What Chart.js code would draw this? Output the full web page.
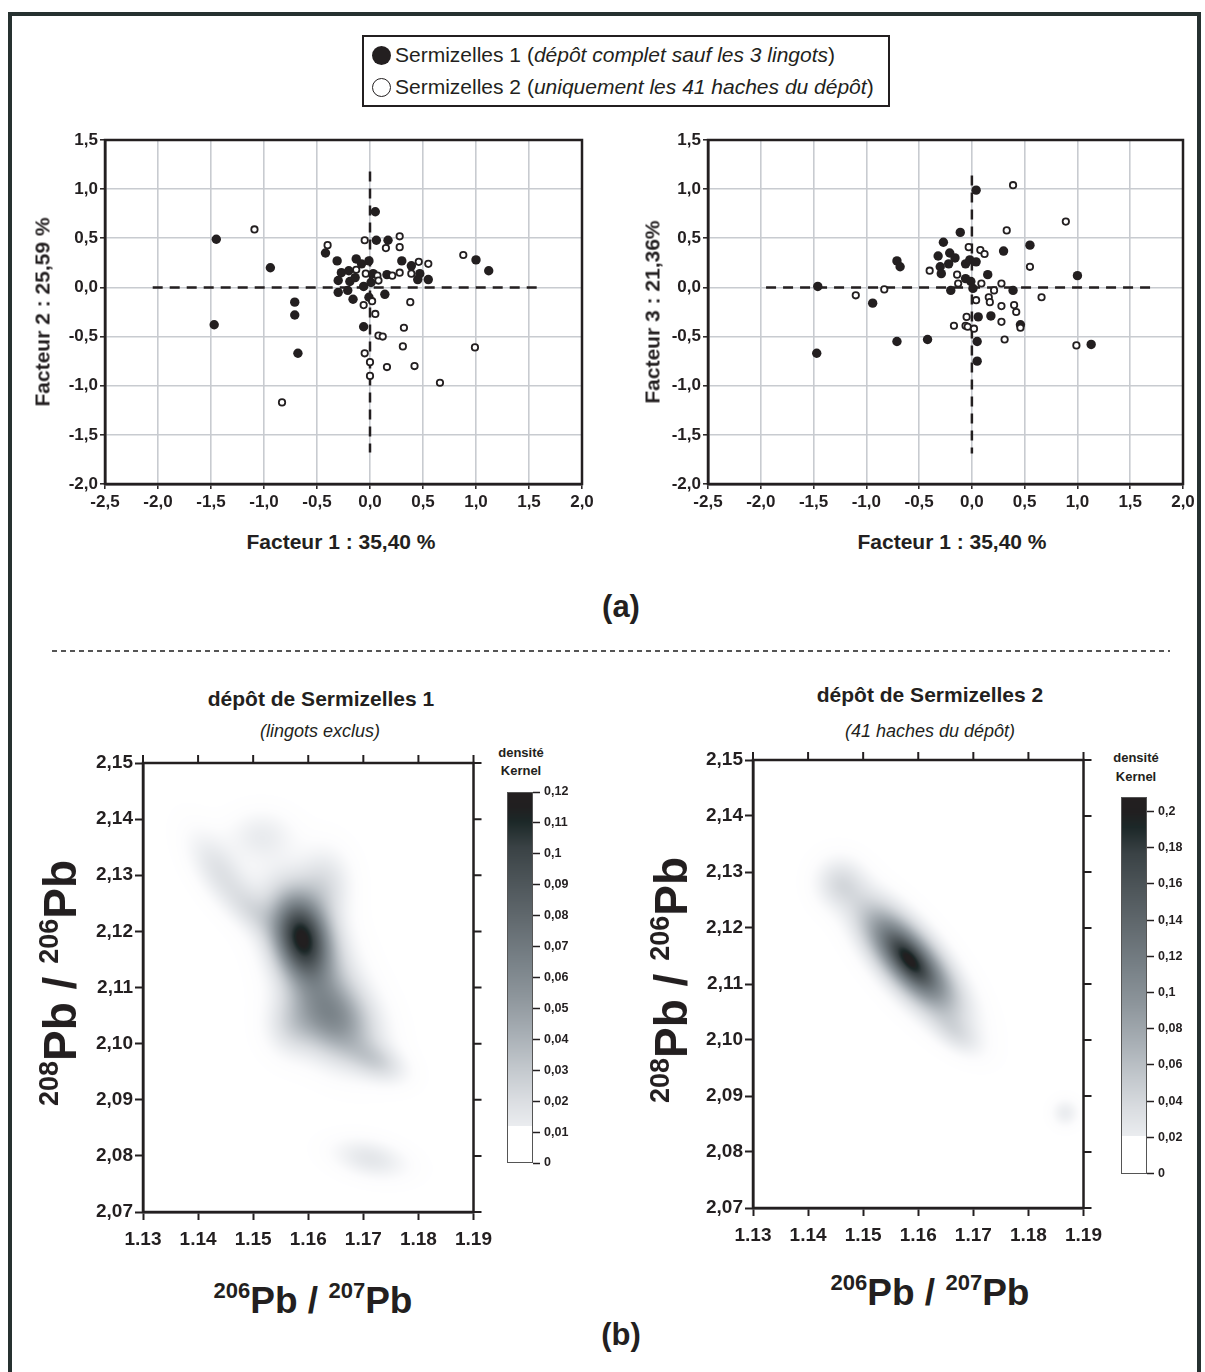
<!DOCTYPE html>
<html lang="fr">
<head>
<meta charset="utf-8">
<title>Sermizelles – ACP et densité Kernel</title>
<script src="https://cdn.jsdelivr.net/npm/chart.js@4.4.1/dist/chart.umd.min.js"></script>
<style>
  html,body{margin:0;padding:0;background:#fff;}
  body{position:relative;width:1205px;height:1372px;overflow:hidden;font-family:"Liberation Sans",Arial,sans-serif;color:#231f20;}
  canvas{position:absolute;}
  .frame{position:absolute;left:8px;top:12px;width:1193px;height:1420px;border:4.5px solid #263130;box-sizing:border-box;pointer-events:none;}
  .c{position:absolute;transform:translate(-50%,-50%);white-space:nowrap;line-height:1;}
  .rot{position:absolute;transform:translate(-50%,-50%) rotate(-90deg);white-space:nowrap;line-height:1;}
  .b{font-weight:bold;}
  #legend{position:absolute;left:362px;top:35px;width:528px;height:72px;border:2px solid #231f20;box-sizing:border-box;}
  #legend .row{position:absolute;left:8px;height:22px;display:flex;align-items:center;font-size:21px;white-space:nowrap;}
  #legend .dot{width:19px;height:19px;border-radius:50%;box-sizing:border-box;margin-right:4px;flex:none;}
  .full{background:#231f20;}
  .open{border:1.3px solid #231f20;background:#fff;}
  .axt{font-weight:bold;font-size:21px;}
  .big{font-weight:bold;font-size:37px;}
  .big sup{font-size:22px;vertical-align:15px;line-height:0;}
  .bigv{font-weight:bold;font-size:46px;}
  .bigv sup{font-size:27px;vertical-align:18px;line-height:0;}
  .sep{position:absolute;left:52px;top:650px;width:1118px;height:1.5px;background:repeating-linear-gradient(to right,#555 0 5px,transparent 5px 9px);}
</style>
</head>
<body>
<div class="frame"></div>

<div id="legend">
  <div class="row" style="top:7px"><span class="dot full"></span>Sermizelles 1 (<i>dépôt complet sauf les 3 lingots</i>)</div>
  <div class="row" style="top:39px"><span class="dot open"></span>Sermizelles 2 (<i>uniquement les 41 haches du dépôt</i>)</div>
</div>

<canvas id="pca12" width="560" height="400" style="left:45px;top:120px"></canvas>
<canvas id="pca13" width="555" height="400" style="left:648px;top:120px"></canvas>

<div class="rot axt" style="left:42px;top:312px">Facteur 2 : 25,59 %</div>
<div class="rot axt" style="left:652px;top:312px">Facteur 3 : 21,36%</div>
<div class="c axt" style="left:341px;top:541px">Facteur 1 : 35,40 %</div>
<div class="c axt" style="left:952px;top:541px">Facteur 1 : 35,40 %</div>
<div class="c b" style="left:621px;top:606px;font-size:31px">(a)</div>

<div class="sep"></div>

<div class="c b" style="left:321px;top:698px;font-size:21px">dépôt de Sermizelles 1</div>
<div class="c" style="left:320px;top:731px;font-size:18px;font-style:italic">(lingots exclus)</div>
<div class="c b" style="left:930px;top:694px;font-size:21px">dépôt de Sermizelles 2</div>
<div class="c" style="left:930px;top:731px;font-size:18px;font-style:italic">(41 haches du dépôt)</div>

<div class="c b" style="left:521px;top:752px;font-size:13px">densité</div>
<div class="c b" style="left:521px;top:770px;font-size:13px">Kernel</div>
<div class="c b" style="left:1136px;top:757px;font-size:13px">densité</div>
<div class="c b" style="left:1136px;top:776px;font-size:13px">Kernel</div>

<canvas id="kde1" width="440" height="520" style="left:60px;top:745px"></canvas>
<canvas id="bar1" width="80" height="400" style="left:500px;top:780px"></canvas>
<canvas id="kde2" width="440" height="520" style="left:670px;top:742px"></canvas>
<canvas id="bar2" width="80" height="400" style="left:1114px;top:785px"></canvas>

<div class="rot bigv" style="left:60px;top:983px"><sup>208</sup>Pb / <sup>206</sup>Pb</div>
<div class="rot bigv" style="left:671px;top:980px"><sup>208</sup>Pb / <sup>206</sup>Pb</div>
<div class="c big" style="left:313px;top:1300px"><sup>206</sup>Pb / <sup>207</sup>Pb</div>
<div class="c big" style="left:930px;top:1292px"><sup>206</sup>Pb / <sup>207</sup>Pb</div>
<div class="c b" style="left:621px;top:1334px;font-size:31px">(b)</div>

<script>
// ----- (a) ACP : Facteur 1 / Facteur 2 -----
const f12FullX = [-1.45,-0.94,-1.47,-0.71,-0.71,-0.68,0.05,0.06,0.17,-0.42,-0.31,-0.13,-0.08,-0.01,-0.27,-0.20,-0.30,-0.19,-0.14,-0.30,-0.21,-0.16,-0.06,0.01,-0.01,-0.06,0.14,0.16,0.30,0.39,0.47,0.45,0.55,1.00,1.12,0.03];
const f12FullY = [0.49,0.20,-0.38,-0.15,-0.28,-0.67,0.77,0.48,0.48,0.35,0.27,0.29,0.24,0.27,0.15,0.17,0.07,0.06,0.10,-0.05,-0.03,-0.12,0.01,0.05,-0.10,-0.40,-0.07,0.13,0.27,0.22,0.14,0.08,0.08,0.28,0.17,0.14];
const f12OpenX = [-1.09,-0.83,-0.40,-0.05,0.28,0.28,0.15,-0.13,-0.04,0.07,0.08,0.21,0.28,0.39,0.46,0.55,0.88,0.38,-0.06,0.02,0.05,0.08,0.12,0.32,0.31,-0.05,0.00,0.00,0.16,0.42,0.66,0.99];
const f12OpenY = [0.59,-1.17,0.43,0.48,0.52,0.41,0.40,0.18,0.14,0.12,0.07,0.12,0.15,0.14,0.26,0.24,0.33,-0.15,-0.18,-0.14,-0.27,-0.49,-0.50,-0.41,-0.60,-0.67,-0.76,-0.90,-0.81,-0.80,-0.97,-0.61];
const f12AxisH = {x:[-2.05,1.60], y:[0,0]};
const f12AxisV = {x:[0,0], y:[1.18,-1.68]};

// ----- (a) ACP : Facteur 1 / Facteur 3 -----
const f13FullX = [0.04,-0.11,-0.27,0.55,0.30,-0.32,-0.21,-0.16,-0.22,-0.30,-0.29,-0.06,-0.02,0.04,-0.71,-0.68,0.15,-0.06,-0.01,0.01,-0.20,0.39,1.00,-1.46,-0.94,0.06,0.18,0.46,-0.71,-0.42,0.05,0.05,1.13,-1.47];
const f13FullY = [0.99,0.56,0.46,0.43,0.37,0.32,0.35,0.30,0.24,0.21,0.14,0.24,0.28,0.26,0.27,0.21,0.13,0.09,0.06,-0.01,-0.03,-0.03,0.12,0.01,-0.16,-0.30,-0.29,-0.38,-0.55,-0.53,-0.55,-0.75,-0.58,-0.67];
const f13OpenX = [0.39,0.89,0.33,-0.03,0.08,0.12,0.55,-0.40,-0.14,-0.13,0.09,0.28,0.21,-0.83,-1.10,0.66,0.16,0.17,0.04,0.28,0.40,0.42,-0.05,0.28,-0.17,-0.06,-0.04,0.02,0.46,0.31,0.99];
const f13OpenY = [1.04,0.67,0.58,0.41,0.38,0.34,0.21,0.17,0.13,0.04,0.04,0.04,-0.03,-0.02,-0.08,-0.10,-0.10,-0.15,-0.13,-0.19,-0.18,-0.25,-0.30,-0.35,-0.39,-0.39,-0.40,-0.42,-0.41,-0.53,-0.59];
const f13AxisH = {x:[-1.95,1.70], y:[0,0]};
const f13AxisV = {x:[0,0], y:[1.14,-1.69]};

const factorTicksX = [-2.5,-2,-1.5,-1,-0.5,0,0.5,1,1.5,2];
const factorTicksY = [-2,-1.5,-1,-0.5,0,0.5,1,1.5];

const s1CentreX = [1.1588,1.1600,1.1645,1.1570,1.1725,1.1440,1.1515,1.1630,1.1500,1.1712];
const s1CentreY = [2.1189,2.1170,2.1045,2.1030,2.0968,2.1305,2.1370,2.1285,2.1235,2.0795];
const s1Peak    = [0.088,0.030,0.052,0.016,0.020,0.017,0.011,0.017,0.012,0.015];
const s1SdX     = [0.0034,0.0055,0.0050,0.0032,0.0035,0.0038,0.0040,0.0032,0.0030,0.0045];
const s1SdY     = [0.0050,0.0080,0.0050,0.0035,0.0025,0.0048,0.0030,0.0042,0.0030,0.0024];
const s1Tilt    = [-0.2,-0.5,-0.3,0,-0.4,-0.6,0,0,-0.5,-0.3];

const s2CentreX = [1.1584,1.1584,1.1458,1.1670,1.1867];
const s2CentreY = [2.1143,2.1143,2.1280,2.1010,2.0870];
const s2Peak    = [0.165,0.040,0.030,0.022,0.020];
const s2SdX     = [0.0056,0.0022,0.0030,0.0030,0.0017];
const s2SdY     = [0.0062,0.0025,0.0030,0.0025,0.0017];
const s2Tilt    = [-0.72,-0.6,0,-0.5,0];

const pbTicksX = [1.13,1.14,1.15,1.16,1.17,1.18,1.19];
const pbTicksY = [2.07,2.08,2.09,2.10,2.11,2.12,2.13,2.14,2.15];

const kernel1Ticks = [0,0.01,0.02,0.03,0.04,0.05,0.06,0.07,0.08,0.09,0.1,0.11,0.12];
const kernel1Max = 0.12;
const kernel2Ticks = [0,0.02,0.04,0.06,0.08,0.1,0.12,0.14,0.16,0.18,0.2];
const kernel2Max = 0.208;

// ----- styles -----
const INK = '#231f20';
const GRID = '#c8cbd0';
const SHADE_AT  = [0.00,0.03,0.10,0.17,0.25,0.35,0.45,0.55,0.65,0.75,0.85,0.92,0.96,1.00];
const SHADE_RGB = [[255,255,255],[252,252,253],[234,236,239],[218,221,225],[196,201,206],[167,174,180],[141,149,155],[119,128,134],[99,107,112],[79,87,91],[58,66,69],[28,40,40],[33,31,32],[35,31,32]];
const TICK_FONT = {size:17, weight:'700'};
const PB_FONT = {size:19, weight:'700'};

Chart.defaults.font.family = "'Liberation Sans', Arial, sans-serif";
Chart.defaults.color = INK;

// ----- helpers -----
const pairs = (xs, ys) => xs.map((x, i) => ({x, y: ys[i]}));
const comma = d => v => Number(v).toFixed(d).replace('.', ',');
const fixedTicks = list => s => { s.ticks = list.map(v => ({value: v})); };

function shade(t){
  if(t <= 0) return SHADE_RGB[0];
  if(t >= 1) return SHADE_RGB[SHADE_RGB.length-1];
  for(let i=1;i<SHADE_AT.length;i++){
    if(t <= SHADE_AT[i]){
      const f = (t-SHADE_AT[i-1])/(SHADE_AT[i]-SHADE_AT[i-1]);
      const a = SHADE_RGB[i-1], b = SHADE_RGB[i];
      return [0,1,2].map(k => Math.round(a[k]+(b[k]-a[k])*f));
    }
  }
  return SHADE_RGB[SHADE_RGB.length-1];
}

function density(m, x, y){
  let s = 0;
  for(let i=0;i<m.cx.length;i++){
    const u = (x-m.cx[i])/m.sx[i], v = (y-m.cy[i])/m.sy[i], r = m.r[i];
    s += m.a[i]*Math.exp(-(u*u - 2*r*u*v + v*v)/(2*(1-r*r)));
  }
  return s;
}

// box round the plot area, optionally with outward ticks on top/right
function framePlugin(width, tickLen){
  return {
    id: 'frame',
    beforeDatasetsDraw(chart){
      const {ctx, chartArea: a, scales: {x, y}} = chart;
      ctx.save();
      ctx.strokeStyle = INK;
      ctx.lineWidth = width;
      ctx.strokeRect(a.left, a.top, a.right-a.left, a.bottom-a.top);
      if(tickLen){
        ctx.lineWidth = 2;
        ctx.beginPath();
        x.ticks.forEach(t => { const p = x.getPixelForValue(t.value); ctx.moveTo(p, a.top); ctx.lineTo(p, a.top-tickLen); });
        y.ticks.forEach(t => { const p = y.getPixelForValue(t.value); ctx.moveTo(a.right, p); ctx.lineTo(a.right+tickLen, p); });
        ctx.stroke();
      }
      ctx.restore();
    }
  };
}

// kernel density painted cell by cell through the chart scales
function kernelPlugin(model, top){
  return {
    id: 'kernelMap',
    beforeDraw(chart){
      const {ctx, chartArea: a, scales: {x, y}} = chart;
      const L = Math.round(a.left), T = Math.round(a.top);
      const W = Math.round(a.right)-L, H = Math.round(a.bottom)-T;
      const img = ctx.createImageData(W, H);
      const xs = [];
      for(let i=0;i<W;i++) xs.push(x.getValueForPixel(L+i+0.5));
      for(let j=0;j<H;j++){
        const yv = y.getValueForPixel(T+j+0.5);
        for(let i=0;i<W;i++){
          const c = shade(density(model, xs[i], yv)/top);
          const k = (j*W+i)*4;
          img.data[k]=c[0]; img.data[k+1]=c[1]; img.data[k+2]=c[2]; img.data[k+3]=255;
        }
      }
      ctx.putImageData(img, L, T);
    }
  };
}

function scaleBarPlugin(top){
  return {
    id: 'scaleBar',
    beforeDraw(chart){
      const {ctx, chartArea: a, scales: {y}} = chart;
      const y0 = Math.round(y.getPixelForValue(0)), y1 = Math.round(y.getPixelForValue(top));
      for(let p=y1;p<y0;p++){
        const t = y.getValueForPixel(p+0.5)/top;
        const c = t < 0.1 ? [255,255,255] : shade(t);
        ctx.fillStyle = 'rgb('+c.join(',')+')';
        ctx.fillRect(a.left, p, a.right-a.left, 1);
      }
      ctx.strokeStyle = '#555';
      ctx.lineWidth = 1;
      ctx.strokeRect(a.left+0.5, y1+0.5, a.right-a.left-1, y0-y1-1);
    }
  };
}

const quiet = {legend:{display:false}, tooltip:{enabled:false}};

function pcaChart(id, pad, fullX, fullY, openX, openY, axH, axV){
  const dash = {showLine:true, borderColor:INK, borderWidth:2.5, borderDash:[10,7], pointRadius:0, fill:false};
  new Chart(document.getElementById(id), {
    type: 'scatter',
    data: {datasets: [
      {data: pairs(openX, openY), pointRadius:3.2, pointBackgroundColor:'#fff', pointBorderColor:INK, pointBorderWidth:1.8},
      {data: pairs(fullX, fullY), pointRadius:4.7, pointBackgroundColor:INK, pointBorderColor:INK, pointBorderWidth:0},
      Object.assign({data: pairs(axH.x, axH.y)}, dash),
      Object.assign({data: pairs(axV.x, axV.y)}, dash)
    ]},
    options: {
      responsive:false, animation:false, events:[],
      layout:{padding:pad},
      plugins: quiet,
      scales: {
        x: {type:'linear', min:-2.5, max:2,
            afterBuildTicks: fixedTicks(factorTicksX), afterFit: s => { s.height = 30; },
            ticks:{font:TICK_FONT, color:INK, padding:3, callback:comma(1), autoSkip:false, maxRotation:0},
            grid:{color:GRID, lineWidth:1.6, tickColor:INK, tickLength:5, tickWidth:1.5},
            border:{color:INK, width:2.5}},
        y: {type:'linear', min:-2, max:1.5,
            afterBuildTicks: fixedTicks(factorTicksY), afterFit: s => { s.width = 45; },
            ticks:{font:TICK_FONT, color:INK, padding:2, callback:comma(1), autoSkip:false},
            grid:{color:GRID, lineWidth:1.6, tickColor:INK, tickLength:5, tickWidth:1.5},
            border:{color:INK, width:2.5}}
      }
    },
    plugins: [framePlugin(2.5, 0)]
  });
}

function kernelChart(id, pad, model, top){
  new Chart(document.getElementById(id), {
    type: 'scatter',
    data: {datasets: []},
    options: {
      responsive:false, animation:false, events:[],
      layout:{padding:pad},
      plugins: quiet,
      scales: {
        x: {type:'linear', min:1.13, max:1.19,
            afterBuildTicks: fixedTicks(pbTicksX), afterFit: s => { s.height = 33; },
            ticks:{font:PB_FONT, color:INK, padding:8, callback:comma(2), autoSkip:false, maxRotation:0},
            grid:{drawOnChartArea:false, tickColor:INK, tickLength:8, tickWidth:2},
            border:{color:INK, width:2.5}},
        y: {type:'linear', min:2.07, max:2.15,
            afterBuildTicks: fixedTicks(pbTicksY), afterFit: s => { s.width = 73; },
            ticks:{font:PB_FONT, color:INK, padding:2, callback:comma(2), autoSkip:false},
            grid:{drawOnChartArea:false, tickColor:INK, tickLength:8, tickWidth:2},
            border:{color:INK, width:2.5}}
      }
    },
    plugins: [kernelPlugin(model, top), framePlugin(2.5, 8)]
  });
}

function barChart(id, pad, ticks, top){
  new Chart(document.getElementById(id), {
    type: 'scatter',
    data: {datasets: []},
    options: {
      responsive:false, animation:false, events:[],
      layout:{padding:pad},
      plugins: quiet,
      scales: {
        x: {type:'linear', display:false, min:0, max:1},
        y: {type:'linear', position:'right', min:0, max:top,
            afterBuildTicks: fixedTicks(ticks), afterFit: s => { s.width = 40; },
            ticks:{font:{size:12.5, weight:'700'}, color:INK, padding:4, autoSkip:false,
                   callback: v => String(v).replace('.', ',')},
            grid:{drawOnChartArea:false, tickColor:INK, tickLength:7, tickWidth:1.5},
            border:{display:false}}
      }
    },
    plugins: [scaleBarPlugin(top)]
  });
}

// ----- build -----
pcaChart('pca12', {left:15, right:23, top:20, bottom:6}, f12FullX, f12FullY, f12OpenX, f12OpenY, f12AxisH, f12AxisV);
pcaChart('pca13', {left:15, right:20, top:20, bottom:6}, f13FullX, f13FullY, f13OpenX, f13OpenY, f13AxisH, f13AxisV);

kernelChart('kde1', {left:10, right:21, top:18, bottom:20},
  {cx:s1CentreX, cy:s1CentreY, a:s1Peak, sx:s1SdX, sy:s1SdY, r:s1Tilt}, kernel1Max);
kernelChart('kde2', {left:10, right:22, top:18, bottom:21},
  {cx:s2CentreX, cy:s2CentreY, a:s2Peak, sx:s2SdX, sy:s2SdY, r:s2Tilt}, kernel2Max);

barChart('bar1', {left:7, right:7, top:12, bottom:17}, kernel1Ticks, kernel1Max);
barChart('bar2', {left:7, right:7, top:12, bottom:10}, kernel2Ticks, kernel2Max);
</script>
</body>
</html>
